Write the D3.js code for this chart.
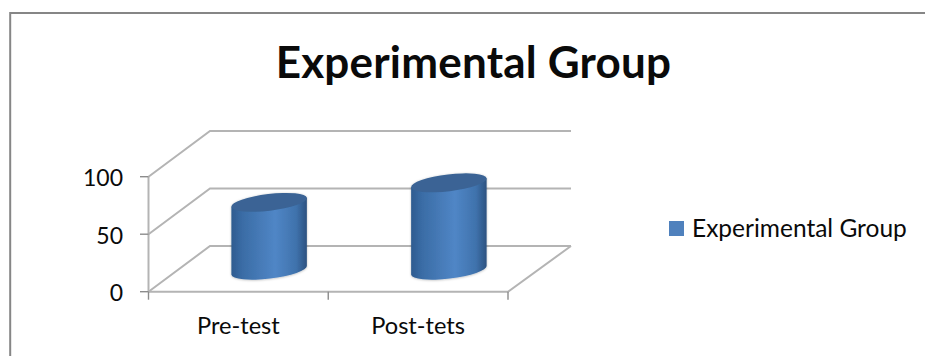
<!DOCTYPE html>
<html><head><meta charset="utf-8">
<script src="https://cdn.jsdelivr.net/npm/d3@7"></script>
<style>
html,body{margin:0;padding:0;background:#fff}
svg{display:block}
text{font-family:Lato,"Open Sans",sans-serif;fill:#0a0a0a}
</style></head><body>
<script>
const categories = ["Pre-test", "Post-tets"];
const groupScores = [59, 76];
const seriesName = "Experimental Group";
const yTicks = [0, 50, 100];

const svg = d3.select("body").append("svg").attr("width", 925).attr("height", 356);
const y = d3.scaleLinear().domain([0, 100]).range([291.7, 176.7]);
const x = d3.scaleBand().domain(categories).range([148.5, 508]);
const depth = {x: 61.5, y: -45.7};
const wallRight = 571;

const defs = svg.append("defs");
defs.append("filter").attr("id", "soft").append("feGaussianBlur").attr("stdDeviation", 0.55);
const halo = defs.append("filter").attr("id", "halo")
  .attr("x", "-10%").attr("y", "-10%").attr("width", "120%").attr("height", "120%");
halo.append("feDropShadow").attr("dx", 0).attr("dy", 0.5).attr("stdDeviation", 1.2)
  .attr("flood-color", "#000").attr("flood-opacity", 0.28);
halo.append("feGaussianBlur").attr("stdDeviation", 0.5);
const grad = defs.append("linearGradient").attr("id", "side");
[[0, "#2e5b8f"], [0.14, "#3a6ca5"], [0.58, "#5086c6"], [0.86, "#3f72ac"], [1, "#2c5280"]]
  .forEach(([o, c]) => grad.append("stop").attr("offset", o).attr("stop-color", c));

// outer frame: only its top and left edges fall inside the page
svg.append("path").attr("d", "M10.2,356V13H925").attr("fill", "none")
  .attr("stroke", "#868686").attr("stroke-width", 2);

svg.append("text").attr("x", 473.5).attr("y", 78).attr("text-anchor", "middle")
  .attr("font-size", 44).attr("letter-spacing", 0.2).attr("font-weight", 700).text(seriesName);

// back wall, side wall and floor outlines
const plot = svg.append("g").attr("filter", "url(#soft)").attr("fill", "none")
  .attr("stroke", "#b4b4b4").attr("stroke-width", 2);
plot.selectAll("path.wall").data(yTicks).join("path").attr("class", "wall")
  .attr("d", t => `M${x.range()[0]},${y(t)}L${x.range()[0] + depth.x},${y(t) + depth.y}H${wallRight}`);
plot.append("path").attr("d", `M${x.range()[0]},${y(0)}H${x.range()[1]}L${wallRight},${y(0) + depth.y}`);
plot.append("path").attr("d", `M${x.range()[0]},${y(100)}V${y(0)}`);

// tick marks
const ticks = svg.append("g").attr("stroke", "#8c8c8c").attr("stroke-width", 1.4).attr("filter", "url(#soft)");
ticks.selectAll("line.y").data(yTicks).join("line").attr("class", "y")
  .attr("x1", 140).attr("x2", x.range()[0]).attr("y1", t => y(t)).attr("y2", t => y(t));
ticks.selectAll("line.x").data([...categories.map(c => x(c)), x.range()[1]]).join("line").attr("class", "x")
  .attr("x1", d => d).attr("x2", d => d).attr("y1", y(0)).attr("y2", y(0) + 8);

svg.selectAll("text.ytick").data(yTicks).join("text").attr("class", "ytick")
  .attr("x", 123).attr("y", t => y(t) + 9.5).attr("text-anchor", "end").attr("font-size", 23).text(t => t);
svg.selectAll("text.xtick").data(categories).join("text").attr("class", "xtick")
  .attr("x", d => x(d) + x.bandwidth() / 2).attr("y", 334).attr("text-anchor", "middle")
  .attr("font-size", 23.6).text(d => d);

// cylinders stand mid-way into the floor and lean with its perspective
const rx = 38, ry = 8.4, tilt = -6.8;
const dx = rx * Math.cos(tilt * Math.PI / 180), dy = rx * Math.sin(tilt * Math.PI / 180);
categories.forEach((c, i) => {
  const cx = x(c) + x.bandwidth() / 2 + depth.x / 2;
  const base = y(0) + depth.y * 0.47;
  const top = base - (y(0) - y(groupScores[i]));
  const g = svg.append("g").attr("filter", "url(#halo)");
  g.append("path").attr("fill", "url(#side)")
    .attr("d", `M${cx - dx},${top - dy}L${cx - dx},${base - dy}` +
      `A${rx},${ry} ${tilt} 0 0 ${cx + dx},${base + dy}L${cx + dx},${top + dy}Z`);
  g.append("ellipse").attr("cx", cx).attr("cy", top).attr("rx", rx).attr("ry", ry)
    .attr("transform", `rotate(${tilt} ${cx} ${top})`).attr("fill", "#3a6495");
});

// legend
svg.append("rect").attr("x", 669).attr("y", 221).attr("width", 15).attr("height", 15).attr("fill", "#4f81bd");
svg.append("text").attr("x", 692).attr("y", 237).attr("font-size", 24.5).text(seriesName);
</script>
</body></html>
